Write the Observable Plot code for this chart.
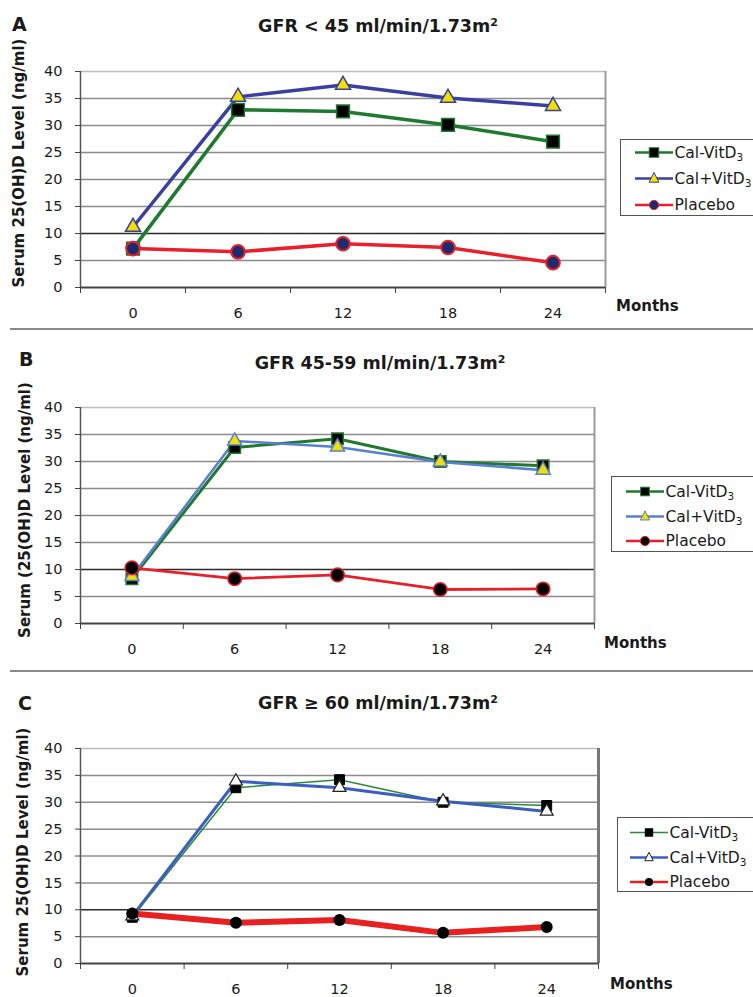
<!DOCTYPE html>
<html>
<head>
<meta charset="utf-8">
<script src="https://cdn.jsdelivr.net/npm/d3@7"></script>
<script src="https://cdn.jsdelivr.net/npm/@observablehq/plot@0.6"></script>
<style>
  html, body { margin: 0; padding: 0; background: white; }
  #root { position: relative; width: 753px; height: 997px; overflow: hidden; font-family: "DejaVu Sans", "Liberation Sans", Arial, sans-serif; color: #1a1a1a; }
  .abs { position: absolute; white-space: nowrap; }
  .letter { font-weight: bold; font-size: 19px; transform: translateY(-50%); }
  .title { font-weight: bold; font-size: 17.5px; transform: translate(-50%, -50%); }
  .title sup { font-size: 11px; vertical-align: 6px; }
  .ylab { font-weight: bold; font-size: 15px; transform: translate(-50%, -50%) rotate(-90deg); }
  .months { font-weight: bold; font-size: 15px; transform: translateY(-50%); }
  .legend { border: 1.5px solid #555; background: white; box-sizing: border-box; }
  .legrow { position: absolute; left: 0; display: flex; align-items: center; transform: translateY(-50%); }
  .legrow span { font-size: 15.5px; margin-left: 2px; }
  .legrow sub { font-size: 10.5px; vertical-align: -3px; }
  .sep { position: absolute; height: 2px; background: #8a8a8a; }
</style>
</head>
<body>
<div id="root"></div>
<script>
// ---------------- data ----------------
const months = [0, 6, 12, 18, 24];
const seriesNames = ["Cal-VitD3", "Cal+VitD3", "Placebo"];
const panelLetters = ["A", "B", "C"];
const panelTitles = ["GFR < 45 ml/min/1.73m", "GFR 45-59 ml/min/1.73m", "GFR \u2265 60 ml/min/1.73m"];
const yLabels = ["Serum 25(OH)D Level (ng/ml)", "Serum (25(OH)D Level (ng/ml)", "Serum 25(OH)D Level (ng/ml)"];
const xAxisLabel = "Months";
const yTicks = [0, 5, 10, 15, 20, 25, 30, 35, 40];
const xBoundaries = [-3, 3, 9, 15, 21, 27];

const A_calMinus = [7.2, 32.9, 32.6, 30.1, 27.0];
const A_calPlus  = [11.2, 35.3, 37.5, 35.1, 33.6];
const A_placebo  = [7.2, 6.6, 8.1, 7.4, 4.6];

const B_calMinus = [8.3, 32.6, 34.2, 30.0, 29.2];
const B_calPlus  = [8.7, 33.8, 32.7, 29.9, 28.4];
const B_placebo  = [10.3, 8.3, 9.0, 6.3, 6.4];

const C_calMinus = [8.6, 32.7, 34.2, 30.0, 29.4];
const C_calPlus  = [8.8, 33.9, 32.7, 30.2, 28.3];
const C_placebo  = [9.3, 7.6, 8.1, 5.7, 6.8];

const panelValues = [
  [A_calMinus, A_calPlus, A_placebo],
  [B_calMinus, B_calPlus, B_placebo],
  [C_calMinus, C_calPlus, C_placebo]
];

// ---------------- styles / layout ----------------
const layouts = [
  { top: 0,   height: 330, left: 80, right: 605, ftop: 71,  fbottom: 287,
    letter: [12, 24], title: [378, 26], ylab: [19, 163], months: [616, 306],
    legend: { left: 620, top: 139, bottom: 216, rows: [153, 179, 205], glyphX: 635 } },
  { top: 330, height: 330, left: 80, right: 594, ftop: 407, fbottom: 623,
    letter: [19, 359], title: [380, 363], ylab: [25, 510], months: [604, 643],
    legend: { left: 611, top: 476, bottom: 552, rows: [492, 517, 541], glyphX: 626 } },
  { top: 660, height: 337, left: 80, right: 598, ftop: 748, fbottom: 963,
    letter: [18, 703], title: [378, 703], ylab: [23, 852], months: [610, 984],
    legend: { left: 617, top: 817, bottom: 892, rows: [833, 858, 882], glyphX: 630 } }
];

const seriesStyles = [
  [ // A
    { line: "#1f7a30", lw: 3.5, symbol: "square", r: 7.2, fill: "#000", stroke: "#1f7a30", sw: 1.5 },
    { line: "#3a3fa2", lw: 3.5, symbol: "triangle", r: 5.6, fill: "#f2e000", stroke: "#3a3fa2", sw: 1.5 },
    { line: "#e8202c", lw: 3.5, symbol: "circle", r: 6.8, fill: "#1c2a6e", stroke: "#e8202c", sw: 2 }
  ],
  [ // B
    { line: "#1f7a30", lw: 3, symbol: "square", r: 6.5, fill: "#000", stroke: "#1f7a30", sw: 1.5 },
    { line: "#5a7fd2", lw: 2.5, symbol: "triangle", r: 5.2, fill: "#f2e000", stroke: "#5a7fd2", sw: 1.5 },
    { line: "#e8202c", lw: 2.8, symbol: "circle", r: 6.8, fill: "#000", stroke: "#e8202c", sw: 1.5 }
  ],
  [ // C
    { line: "#2a8a3a", lw: 1.5, symbol: "square", r: 5.6, fill: "#000", stroke: "#000", sw: 1 },
    { line: "#3b5fc0", lw: 3, symbol: "triangle", r: 4.8, fill: "#fff", stroke: "#222", sw: 1.2 },
    { line: "#e82020", lw: 6, symbol: "circle", r: 6, fill: "#000", stroke: "none", sw: 0 }
  ]
];

const root = document.getElementById("root");

function addDiv(cls, x, y, html) {
  const d = document.createElement("div");
  d.className = "abs " + cls;
  d.style.left = x + "px";
  d.style.top = y + "px";
  d.innerHTML = html;
  root.appendChild(d);
  return d;
}

function fmtName(n) {
  return n.replace(/D3$/, "D<sub>3</sub>");
}

function glyphSVG(st, scale) {
  const w = 38, h = 14, cx = 19, cy = 7;
  let marker = "";
  const r = st.r * scale;
  if (st.symbol === "square") {
    const s = r * 1.2;
    marker = `<rect x="${cx - s / 2}" y="${cy - s / 2}" width="${s}" height="${s}" fill="${st.fill}" stroke="${st.stroke}" stroke-width="1"/>`;
  } else if (st.symbol === "triangle") {
    const s = r * 1.6;
    marker = `<path d="M${cx},${cy - s * 0.62}L${cx + s / 2},${cy + s * 0.38}L${cx - s / 2},${cy + s * 0.38}Z" fill="${st.fill}" stroke="${st.stroke}" stroke-width="1"/>`;
  } else {
    marker = `<circle cx="${cx}" cy="${cy}" r="${r * 0.62}" fill="${st.fill}" stroke="${st.stroke}" stroke-width="1"/>`;
  }
  const lw = Math.min(st.lw, 2.5);
  return `<svg width="${w}" height="${h}" style="display:block"><line x1="0" x2="${w}" y1="${cy}" y2="${cy}" stroke="${st.line}" stroke-width="${lw}"/>${marker}</svg>`;
}

layouts.forEach((L, p) => {
  const vals = panelValues[p];
  const styles = seriesStyles[p];
  const marks = [];

  // grid lines
  marks.push(Plot.ruleY(yTicks.filter(t => t > 0 && t < 40 && t !== 10), { stroke: "#8c8c8c", strokeWidth: 1.5 }));
  marks.push(Plot.ruleY(yTicks.filter(t => t === 40), { stroke: "#bdbdbd", strokeWidth: 1.5 }));
  marks.push(Plot.ruleY(yTicks.filter(t => t === 10), { stroke: "#2a2a2a", strokeWidth: 1.5 }));
  // frame: right border, left axis, bottom axis
  marks.push(Plot.ruleX(xBoundaries.slice(-1), { stroke: p === 2 ? "#777" : "#9a9a9a", strokeWidth: p === 2 ? 3 : 2 }));
  marks.push(Plot.ruleX(xBoundaries.slice(0, 1), { stroke: "#555", strokeWidth: 1.5 }));
  marks.push(Plot.ruleY(yTicks.slice(0, 1), { stroke: "#444", strokeWidth: 2 }));

  // axes
  marks.push(Plot.axisY({ ticks: yTicks, tickSize: 5, tickPadding: 13, fontSize: 14.5, label: null, stroke: "#444" }));
  marks.push(Plot.axisX({ ticks: xBoundaries, tickSize: 6, tickFormat: () => "", label: null, stroke: "#444" }));
  marks.push(Plot.axisX({ ticks: months, tickSize: 0, tickPadding: 20, fontSize: 14.5, label: null }));

  // series
  seriesNames.forEach((name, s) => {
    const rows = months.map((m, i) => ({ month: m, value: vals[s][i], series: name }));
    const st = styles[s];
    marks.push(Plot.line(rows, { x: "month", y: "value", stroke: st.line, strokeWidth: st.lw, strokeLinejoin: "round" }));
  });
  seriesNames.forEach((name, s) => {
    const rows = months.map((m, i) => ({ month: m, value: vals[s][i], series: name }));
    const st = styles[s];
    marks.push(Plot.dot(rows, { x: "month", y: "value", symbol: () => st.symbol, r: st.r, fill: st.fill, stroke: st.stroke, strokeWidth: st.sw }));
  });

  const chart = Plot.plot({
    width: 753,
    height: L.height,
    marginTop: L.ftop - L.top,
    marginBottom: L.top + L.height - L.fbottom,
    marginLeft: L.left,
    marginRight: 753 - L.right,
    x: { type: "linear", domain: [xBoundaries[0], xBoundaries[xBoundaries.length - 1]] },
    y: { type: "linear", domain: [yTicks[0], yTicks[yTicks.length - 1]] },
    symbol: { type: "ordinal", domain: ["square", "triangle", "circle"], range: ["square", "triangle", "circle"] },
    style: { fontFamily: "DejaVu Sans, Liberation Sans, Arial, sans-serif", fontSize: "14px", color: "#1a1a1a", background: "transparent", overflow: "visible" },
    marks
  });
  chart.style.position = "absolute";
  chart.style.left = "0px";
  chart.style.top = L.top + "px";
  root.appendChild(chart);

  // texts
  addDiv("letter", L.letter[0], L.letter[1], panelLetters[p]);
  addDiv("title", L.title[0], L.title[1], panelTitles[p] + "<sup>2</sup>");
  addDiv("ylab", L.ylab[0], L.ylab[1], yLabels[p]);
  addDiv("months", L.months[0], L.months[1], xAxisLabel);

  // legend
  const lg = L.legend;
  const box = document.createElement("div");
  box.className = "abs legend";
  box.style.left = lg.left + "px";
  box.style.top = lg.top + "px";
  box.style.width = (770 - lg.left) + "px";
  box.style.height = (lg.bottom - lg.top) + "px";
  root.appendChild(box);
  seriesNames.forEach((name, s) => {
    const row = document.createElement("div");
    row.className = "legrow";
    row.style.left = (lg.glyphX - lg.left - 1.5) + "px";
    row.style.top = (lg.rows[s] - lg.top - 1.5) + "px";
    row.innerHTML = glyphSVG(styles[s], 1.1) + `<span>${fmtName(name)}</span>`;
    box.appendChild(row);
  });
});

// separators between panels
[329, 671].forEach(y => {
  const d = document.createElement("div");
  d.className = "sep";
  d.style.left = "10px";
  d.style.width = "743px";
  d.style.top = (y - 1) + "px";
  root.appendChild(d);
});
</script>
</body>
</html>
